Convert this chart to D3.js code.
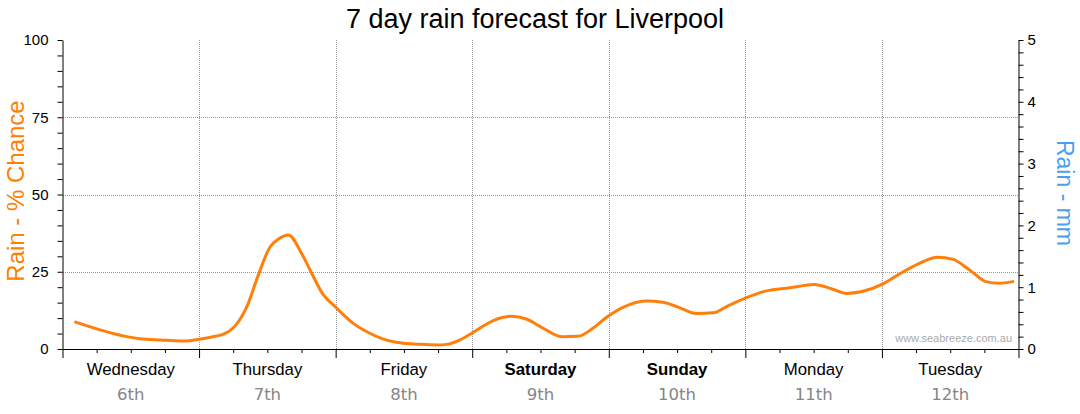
<!DOCTYPE html>
<html>
<head>
<meta charset="utf-8">
<script src="https://cdn.jsdelivr.net/npm/d3@7"></script>
<style>
  html, body { margin: 0; padding: 0; background: #fff; }
  svg { display: block; font-family: "Liberation Sans", Arial, sans-serif; }
</style>
</head>
<body>
<svg id="chart" width="1080" height="414"></svg>
<script>
// hours since Wednesday 00:00, and rain chance (%)
const hours = [2.3, 11.3, 13.6, 17.2, 20.7, 22.4, 24.2, 27.1, 28.3, 30.3, 32.4, 34.4, 36.5, 37.9, 39.7,
  42.0, 43.8, 45.5, 48.2, 51.1, 54.0, 56.4, 59.3, 62.8, 66.0, 67.5, 69.8, 72.2, 75.7, 78.9, 81.5,
  84.2, 87.7, 90.6, 93.2, 95.8, 99.4, 102.6, 105.5, 108.4, 111.4, 114.3, 117.2, 120.2, 123.7, 127.8,
  132.1, 135.1, 137.7, 140.5, 144.1, 147.0, 150.3, 153.8, 156.4, 159.4, 162.3, 164.6, 167.0];
const chance = [8.7, 4.0, 3.3, 2.9, 2.6, 2.7, 3.2, 4.2, 4.8, 7.4, 13.7, 23.9, 33.1, 35.5, 36.9,
  31.0, 24.5, 18.5, 13.2, 8.3, 5.1, 3.2, 2.0, 1.5, 1.3, 1.5, 2.9, 5.4, 9.2, 10.6, 9.7,
  7.0, 4.0, 4.1, 6.7, 10.5, 14.2, 15.5, 15.1, 13.4, 11.5, 11.7, 14.2, 16.6, 18.8, 19.8,
  20.9, 19.5, 18.0, 18.6, 21.0, 24.2, 27.5, 29.7, 29.1, 25.6, 21.8, 21.3, 21.8];

const dayNames = ["Wednesday", "Thursday", "Friday", "Saturday", "Sunday", "Monday", "Tuesday"];
const dayDates = ["6th", "7th", "8th", "9th", "10th", "11th", "12th"];
const chanceTicks = [0, 25, 50, 75, 100];
const mmTicks = [0, 1, 2, 3, 4, 5];

const svg = d3.select("#chart");
const m = { left: 62.5, right: 1018.5, top: 40, bottom: 349 };

const x = d3.scaleLinear().domain([0, 168]).range([m.left, m.right]);
const y = d3.scaleLinear().domain([0, 100]).range([m.bottom, m.top]);
const yMm = d3.scaleLinear().domain([0, 5]).range([m.bottom, m.top]);

// title
svg.append("text")
  .attr("x", 535).attr("y", 28)
  .attr("text-anchor", "middle")
  .attr("font-size", 27)
  .attr("fill", "#000")
  .text("7 day rain forecast for Liverpool");

// grid
const grid = svg.append("g")
  .attr("stroke", "#999")
  .attr("stroke-dasharray", "1,1")
  .attr("shape-rendering", "crispEdges");
grid.selectAll("line.h")
  .data([25, 50, 75])
  .join("line")
  .attr("x1", m.left).attr("x2", m.right)
  .attr("y1", d => Math.round(y(d)) + 0.5).attr("y2", d => Math.round(y(d)) + 0.5);
grid.selectAll("line.v")
  .data(d3.range(24, 168, 24))
  .join("line")
  .attr("x1", d => Math.round(x(d)) + 0.5).attr("x2", d => Math.round(x(d)) + 0.5)
  .attr("y1", m.top).attr("y2", m.bottom);

// watermark
svg.append("text")
  .attr("x", 1012).attr("y", 342)
  .attr("text-anchor", "end")
  .attr("font-size", 11)
  .attr("fill", "#aaa")
  .text("www.seabreeze.com.au");

// left axis
const yAxis = svg.append("g")
  .attr("transform", `translate(${m.left},0)`)
  .call(d3.axisLeft(y)
    .tickValues(d3.range(0, 101, 5))
    .tickSize(5)
    .tickSizeOuter(0)
    .tickFormat(d => chanceTicks.includes(d) ? d : ""));
yAxis.selectAll("text").attr("font-size", 15).attr("fill", "#000").attr("x", -14);

// right axis
const mmAxis = svg.append("g")
  .attr("transform", `translate(${m.right},0)`)
  .call(d3.axisRight(yMm)
    .tickValues(d3.range(0, 26).map(i => i / 5))
    .tickSize(5)
    .tickSizeOuter(0)
    .tickFormat(d => mmTicks.includes(d) ? d : ""));
mmAxis.selectAll("text").attr("font-size", 15).attr("fill", "#000").attr("x", 9);

// bottom axis: 6-hour minor ticks, day major ticks
svg.append("g")
  .attr("transform", `translate(0,${m.bottom})`)
  .call(d3.axisBottom(x).tickValues(d3.range(6, 168, 6).filter(d => d % 24)).tickSize(4).tickSizeOuter(0).tickFormat(""));
svg.append("g")
  .attr("transform", `translate(0,${m.bottom})`)
  .call(d3.axisBottom(x).tickValues(d3.range(0, 169, 24)).tickSize(9).tickSizeOuter(0).tickFormat(""));

svg.selectAll(".domain, .tick line").attr("stroke", "#000");

// day labels
const days = svg.append("g").selectAll("g")
  .data(dayNames)
  .join("g")
  .attr("transform", (d, i) => `translate(${x(i * 24 + 12)},0)`);
days.append("text")
  .attr("y", 375)
  .attr("text-anchor", "middle")
  .attr("font-size", 16.8)
  .attr("font-weight", d => (d === "Saturday" || d === "Sunday") ? "bold" : "normal")
  .attr("fill", "#000")
  .text(d => d);
days.append("text")
  .attr("y", 400)
  .attr("text-anchor", "middle")
  .attr("font-family", "'DejaVu Sans', sans-serif")
  .attr("font-size", 16.5)
  .attr("fill", "#858585")
  .text((d, i) => dayDates[i]);

// axis titles
svg.append("text")
  .attr("transform", `translate(15,191) rotate(-90)`)
  .attr("text-anchor", "middle")
  .attr("dominant-baseline", "central")
  .attr("font-size", 24)
  .attr("fill", "#ff7f00")
  .text("Rain - % Chance");
svg.append("text")
  .attr("transform", `translate(1065,193) rotate(90)`)
  .attr("text-anchor", "middle")
  .attr("dominant-baseline", "central")
  .attr("font-size", 23)
  .attr("fill", "#4a9ff0")
  .text("Rain - mm");

// rain chance line
const line = d3.line()
  .x((d, i) => x(hours[i]))
  .y(d => y(d))
  .curve(d3.curveMonotoneX);
svg.append("path")
  .datum(chance)
  .attr("fill", "none")
  .attr("stroke", "#ff7f0a")
  .attr("stroke-width", 3)
  .attr("stroke-linejoin", "round")
  .attr("stroke-linecap", "round")
  .attr("d", line);
</script>
</body>
</html>
